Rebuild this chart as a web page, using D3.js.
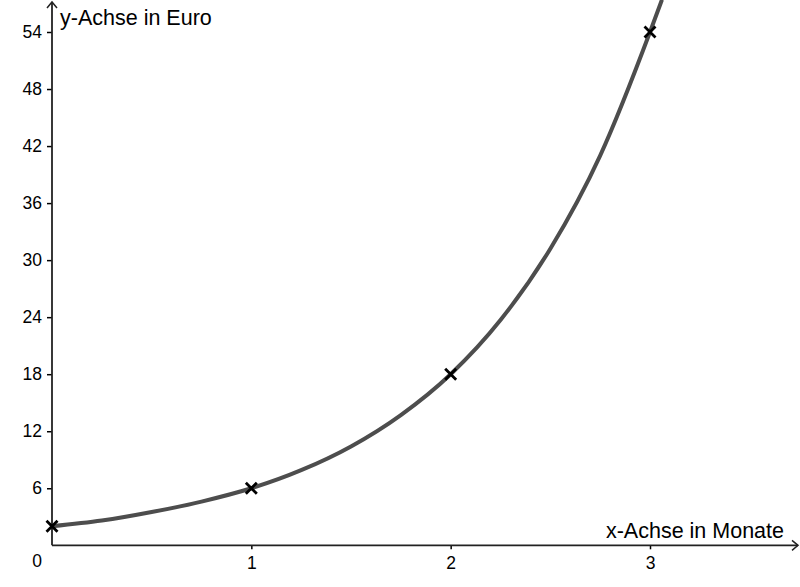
<!DOCTYPE html>
<html>
<head>
<meta charset="utf-8">
<script src="https://cdn.jsdelivr.net/npm/d3@7"></script>
<style>
  body { margin: 0; background: #fff; }
  text { font-family: "Liberation Sans", Arial, sans-serif; fill: #000; }
</style>
</head>
<body>
<script>
// tick values
let xTicks = [1, 2, 3];
let yTicks = [6, 12, 18, 24, 30, 36, 42, 48, 54];

// measured points (Monate, Euro)
let pointX = [0, 1, 2, 3];
let pointY = [2, 6, 18, 54];

// curve
let curveX = [0, 0.25, 0.5, 0.75, 1, 1.25, 1.5, 1.75, 2, 2.25, 2.5, 2.75, 3, 3.06];
let curveY = [2, 2.6, 3.5, 4.6, 6, 7.9, 10.4, 13.7, 18, 23.7, 31.2, 41, 54, 57.4];

let width = 800, height = 587;

let svg = d3.select("body").append("svg")
    .attr("width", width)
    .attr("height", height);

let x = d3.scaleLinear().domain([0, 3]).range([52, 650]);
let y = d3.scaleLinear().domain([0, 54]).range([545.3, 32]);

// clip so the curve stops at the top edge
svg.append("clipPath").attr("id", "clip")
    .append("rect").attr("x", 0).attr("y", 0).attr("width", width).attr("height", height);

// x axis
let xAxis = d3.axisBottom(x).tickValues(xTicks).tickSize(4).tickPadding(7).tickFormat(d3.format("d"));
let gx = svg.append("g").attr("transform", "translate(0," + y(0) + ")").call(xAxis);
gx.attr("font-size", 17.5).attr("font-family", null);
gx.select(".domain").remove();
gx.selectAll("line").attr("stroke", "#000").attr("stroke-width", 1.5);
gx.selectAll("text").attr("fill", "#000");

// y axis
let yAxis = d3.axisLeft(y).tickValues(yTicks).tickSize(5).tickPadding(5);
let gy = svg.append("g").attr("transform", "translate(" + x(0) + ",0)").call(yAxis);
gy.attr("font-size", 17.5).attr("font-family", null);
gy.select(".domain").remove();
gy.selectAll("line").attr("stroke", "#000").attr("stroke-width", 1.5);
gy.selectAll("text").attr("fill", "#000");

// axis lines with open arrows
svg.append("line")
    .attr("x1", x(0)).attr("y1", y(0)).attr("x2", 798).attr("y2", y(0))
    .attr("stroke", "#222").attr("stroke-width", 1.8);
svg.append("path")
    .attr("d", "M792," + (y(0) - 5) + " L798," + y(0) + " L792," + (y(0) + 5))
    .attr("fill", "none").attr("stroke", "#222").attr("stroke-width", 1.5);

svg.append("line")
    .attr("x1", x(0)).attr("y1", y(0)).attr("x2", x(0)).attr("y2", 2)
    .attr("stroke", "#222").attr("stroke-width", 1.8);
svg.append("path")
    .attr("d", "M" + (x(0) - 5) + ",8 L" + x(0) + ",2 L" + (x(0) + 5) + ",8")
    .attr("fill", "none").attr("stroke", "#222").attr("stroke-width", 1.5);

// origin label
svg.append("text")
    .attr("x", 37.2).attr("y", 567)
    .attr("text-anchor", "middle")
    .attr("font-size", 17.5)
    .text("0");

// axis titles
svg.append("text")
    .attr("x", 60).attr("y", 25)
    .attr("font-size", 21.5)
    .text("y-Achse in Euro");

svg.append("text")
    .attr("x", 784).attr("y", 538)
    .attr("text-anchor", "end")
    .attr("font-size", 21.5)
    .text("x-Achse in Monate");

// curve
let curveData = curveX.map((d, i) => ({x: d, y: curveY[i]}));
let line = d3.line()
    .x(d => x(d.x))
    .y(d => y(d.y))
    .curve(d3.curveMonotoneX);

svg.append("path")
    .datum(curveData)
    .attr("clip-path", "url(#clip)")
    .attr("d", line)
    .attr("fill", "none")
    .attr("stroke", "#4d4d4d")
    .attr("stroke-width", 4);

// cross markers
let pts = pointX.map((d, i) => ({x: d, y: pointY[i]}));
let s = 5.5;
svg.selectAll(".cross").data(pts).enter().append("path")
    .attr("class", "cross")
    .attr("d", d => {
        let cx = x(d.x), cy = y(d.y);
        return "M" + (cx - s) + "," + (cy - s) + "L" + (cx + s) + "," + (cy + s) +
               "M" + (cx - s) + "," + (cy + s) + "L" + (cx + s) + "," + (cy - s);
    })
    .attr("stroke", "#000")
    .attr("stroke-width", 2.8)
    .attr("fill", "none");
</script>
</body>
</html>
